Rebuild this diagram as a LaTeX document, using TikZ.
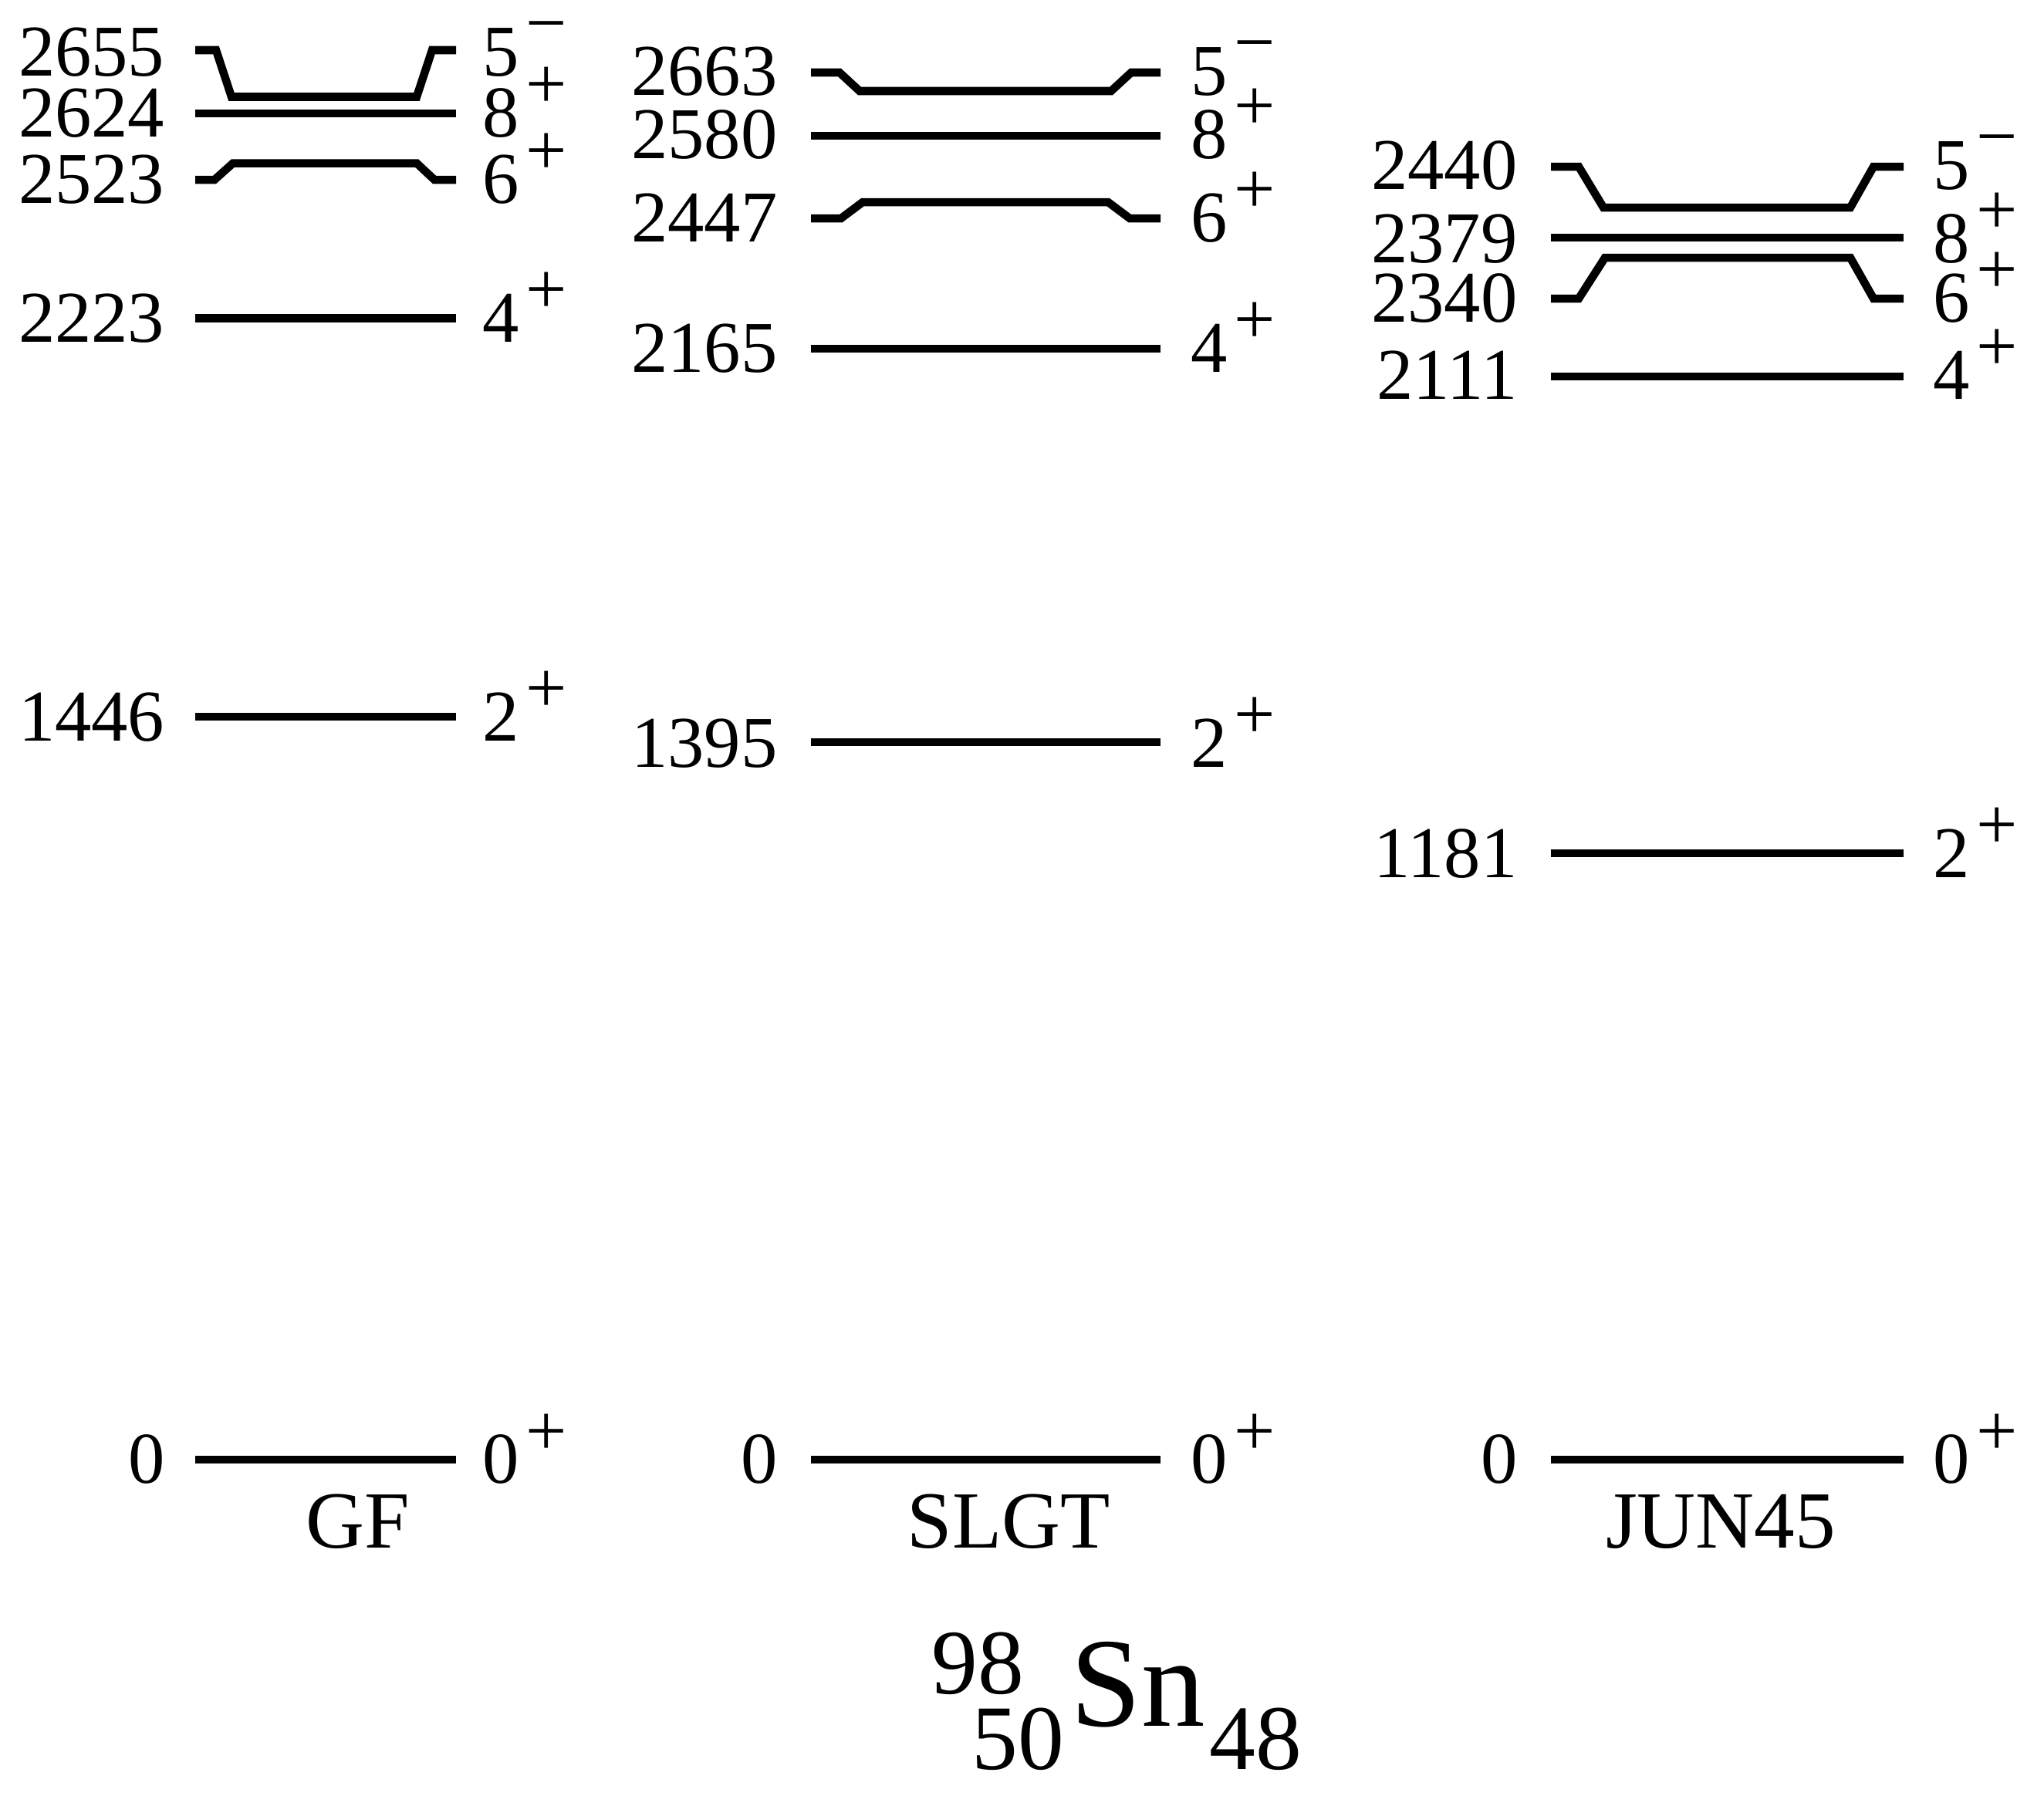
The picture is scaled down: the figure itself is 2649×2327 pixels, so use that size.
\documentclass[tikz,border=0pt]{standalone}
\usepackage{fontspec}
\setmainfont{Liberation Serif}
\newcommand{\fnum}{\fontsize{26.9pt}{30pt}\selectfont}
\newcommand{\fmodel}{\fontsize{29.9pt}{33pt}\selectfont}
\newcommand{\fiso}{\fontsize{34pt}{38pt}\selectfont}
\newcommand{\fsym}{\fontsize{46.9pt}{50pt}\selectfont}
\newcommand{\spinlab}[2]{#1\kern0.08cm\raisebox{0.36cm}{#2}}
\newcommand{\mns}{\symbol{"2212}}
\begin{document}
\begin{tikzpicture}[x=0.01cm,y=-0.01cm,
  lvl/.style={line width=0.105cm, line join=miter, line cap=butt},
  elab/.style={anchor=base east, inner sep=0pt, font=\fnum},
  slab/.style={anchor=base west, inner sep=0pt, font=\fnum},
  model/.style={anchor=base, inner sep=0pt, font=\fmodel}]
\useasboundingbox (0,0) rectangle (2649,2327);

% ---------------- GF ----------------
\draw[lvl] (253,65) -- (280,65) -- (300,125.5) -- (540,125.5) -- (560,65) -- (591,65);
\draw[lvl] (253,147) -- (591,147);
\draw[lvl] (253,233) -- (278,233) -- (302,211.5) -- (540,211.5) -- (563,233) -- (591,233);
\draw[lvl] (253,412.5) -- (591,412.5);
\draw[lvl] (253,929) -- (591,929);
\draw[lvl] (253,1892) -- (591,1892);
\node[elab] (gfe5) at (214,98) {2655};
\node[elab] (gfe8) at (214,177) {2624};
\node[elab] (gfe6) at (214,263) {2523};
\node[elab] (gfe4) at (214,443) {2223};
\node[elab] (gfe2) at (214,960) {1446};
\node[elab] (gfe0) at (214,1922) {0};
\node[slab] (gfs5) at (625,98) {\spinlab{5}{\mns}};
\node[slab] (gfs8) at (625,177) {\spinlab{8}{+}};
\node[slab] (gfs6) at (625,263) {\spinlab{6}{+}};
\node[slab] (gfs4) at (625,443) {\spinlab{4}{+}};
\node[slab] (gfs2) at (625,960) {\spinlab{2}{+}};
\node[slab] (gfs0) at (625,1922) {\spinlab{0}{+}};
\node[model] (gfname) at (464,2006) {GF};

% ---------------- SLGT ----------------
\draw[lvl] (1051,94) -- (1088,94) -- (1114,118) -- (1440,118) -- (1466,94) -- (1504,94);
\draw[lvl] (1051,176) -- (1504,176);
\draw[lvl] (1051,283) -- (1090,283) -- (1118,262) -- (1436,262) -- (1464,283) -- (1504,283);
\draw[lvl] (1051,452) -- (1504,452);
\draw[lvl] (1051,962) -- (1504,962);
\draw[lvl] (1051,1892) -- (1504,1892);
\node[elab] (sle5) at (1008,123) {2663};
\node[elab] (sle8) at (1008,205) {2580};
\node[elab] (sle6) at (1008,313) {2447};
\node[elab] (sle4) at (1008,482) {2165};
\node[elab] (sle2) at (1008,994) {1395};
\node[elab] (sle0) at (1008,1922) {0};
\node[slab] (sls5) at (1543,123) {\spinlab{5}{\mns}};
\node[slab] (sls8) at (1543,205) {\spinlab{8}{+}};
\node[slab] (sls6) at (1543,313) {\spinlab{6}{+}};
\node[slab] (sls4) at (1543,482) {\spinlab{4}{+}};
\node[slab] (sls2) at (1543,994) {\spinlab{2}{+}};
\node[slab] (sls0) at (1543,1922) {\spinlab{0}{+}};
\node[model] (slname) at (1307,2006) {SLGT};

% ---------------- JUN45 ----------------
\draw[lvl] (2010,216) -- (2046,216) -- (2078,269) -- (2398,269) -- (2428,216) -- (2467,216);
\draw[lvl] (2010,308) -- (2467,308);
\draw[lvl] (2010,387) -- (2046,387) -- (2080,334) -- (2398,334) -- (2428,387) -- (2467,387);
\draw[lvl] (2010,488) -- (2467,488);
\draw[lvl] (2010,1106) -- (2467,1106);
\draw[lvl] (2010,1892) -- (2467,1892);
\node[elab] (jue5) at (1967,245) {2440};
\node[elab] (jue8) at (1967,340) {2379};
\node[elab] (jue6) at (1967,417) {2340};
\node[elab] (jue4) at (1967,517) {2111};
\node[elab] (jue2) at (1967,1137) {1181};
\node[elab] (jue0) at (1967,1922) {0};
\node[slab] (jus5) at (2505,245) {\spinlab{5}{\mns}};
\node[slab] (jus8) at (2505,340) {\spinlab{8}{+}};
\node[slab] (jus6) at (2505,417) {\spinlab{6}{+}};
\node[slab] (jus4) at (2505,517) {\spinlab{4}{+}};
\node[slab] (jus2) at (2505,1137) {\spinlab{2}{+}};
\node[slab] (jus0) at (2505,1922) {\spinlab{0}{+}};
\node[model] (juname) at (2230,2006) {JUN45};

% ---------------- nucleus ----------------
\node[anchor=base west, inner sep=0pt, font=\fiso] (massA) at (1207,2195) {98};
\node[anchor=base west, inner sep=0pt, font=\fiso] (protZ) at (1259,2293) {50};
\node[anchor=base west, inner sep=0pt, font=\fsym] (elem) at (1387,2237) {Sn};
\node[anchor=base west, inner sep=0pt, font=\fiso] (neutN) at (1567,2293) {48};
\end{tikzpicture}
\end{document}
